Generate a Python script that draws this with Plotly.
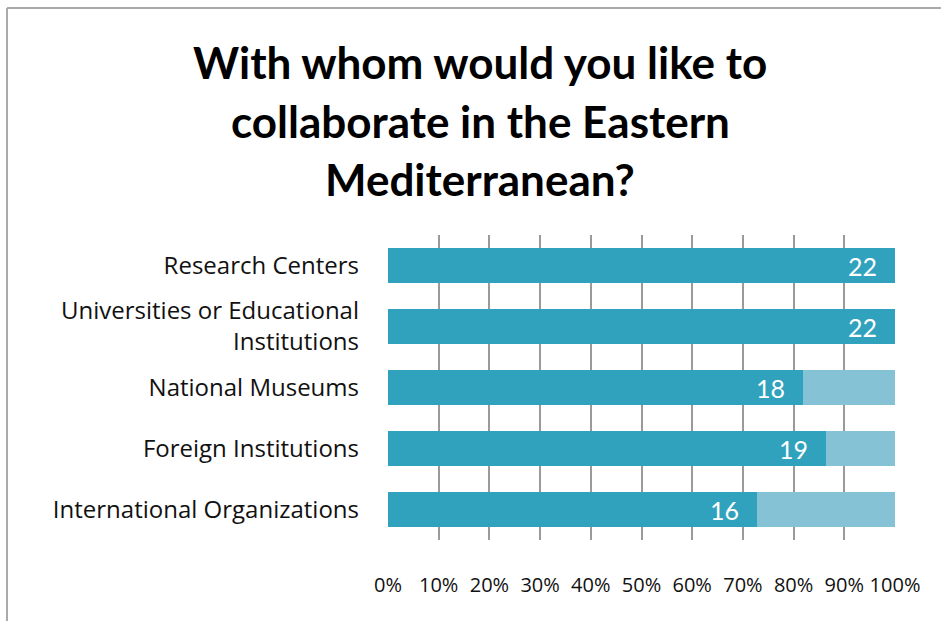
import plotly.graph_objects as go

categories = ["Research Centers", "Universities or Educational<br>Institutions",
              "National Museums", "Foreign Institutions", "International Organizations"]
yes_counts = [22, 22, 18, 19, 16]
rest_counts = [0, 0, 4, 3, 6]
tick_vals = [0, 0.1, 0.2, 0.3, 0.4, 0.5, 0.6, 0.7, 0.8, 0.9, 1.0]
tick_text = ["0%", "10%", "20%", "30%", "40%", "50%", "60%", "70%", "80%", "90%", "100%"]
title_lines = ["With whom would you like to", "collaborate in the Eastern", "Mediterranean?"]

totals = [a + b for a, b in zip(yes_counts, rest_counts)]
yes_share = [a / t for a, t in zip(yes_counts, totals)]
rest_share = [b / t for b, t in zip(rest_counts, totals)]

W, H = 941, 621
L, R, T, B = 388, W - 895, 235, H - 540
PW, PH = W - L - R, H - T - B

fig = go.Figure()
fig.add_trace(go.Bar(
    y=categories, x=yes_share, orientation="h",
    marker=dict(color="#30a2bd", line=dict(width=0)),
    width=0.56, showlegend=False, hoverinfo="skip",
))
fig.add_trace(go.Bar(
    y=categories, x=rest_share, orientation="h",
    marker=dict(color="#86c2d5", line=dict(width=0)),
    width=0.56, showlegend=False, hoverinfo="skip",
))

annotations = []
for cat, share, cnt in zip(categories, yes_share, yes_counts):
    annotations.append(dict(
        x=share, y=cat, xref="x", yref="y", text=str(cnt), showarrow=False,
        xanchor="right", yanchor="middle", xshift=-16,
        font=dict(family="Lato", size=25, color="white"),
    ))
title_centers = [62, 121, 179]
for line, cy in zip(title_lines, title_centers):
    annotations.append(dict(
        x=(480 - L) / PW, y=(H - B - cy) / PH, xref="paper", yref="paper",
        text=line, showarrow=False, xanchor="center", yanchor="middle",
        font=dict(family="Lato", size=44, color="black", weight="bold"),
    ))

fig.update_layout(
    barmode="stack",
    width=W, height=H,
    margin=dict(l=L, r=R, t=T, b=B),
    paper_bgcolor="white", plot_bgcolor="white",
    font=dict(family="Open Sans", color="black"),
    annotations=annotations,
    xaxis=dict(
        range=[0, 1], tickvals=tick_vals, ticktext=tick_text,
        showgrid=True, gridcolor="#9a9a9a", gridwidth=2,
        zeroline=False, showline=False,
        tickfont=dict(size=20, family="Open Sans", color="#111111"),
        ticks="", ticklabelstandoff=31,
    ),
    yaxis=dict(
        categoryorder="array", categoryarray=categories[::-1],
        showgrid=False, zeroline=False, showline=False,
        tickfont=dict(size=24, family="Open Sans", color="#111111"),
        ticks="", ticklabelstandoff=28,
    ),
    shapes=[
        dict(type="line", xref="paper", yref="paper",
             x0=(7 - L) / PW, x1=(W + 10 - L) / PW,
             y0=(H - B - 8) / PH, y1=(H - B - 8) / PH,
             line=dict(color="#aaaaaa", width=2)),
        dict(type="line", xref="paper", yref="paper",
             x0=(7 - L) / PW, x1=(7 - L) / PW,
             y0=(H - B - 8) / PH, y1=-(B + 10) / PH,
             line=dict(color="#aaaaaa", width=2)),
    ],
)
fig.write_html("out.html")
